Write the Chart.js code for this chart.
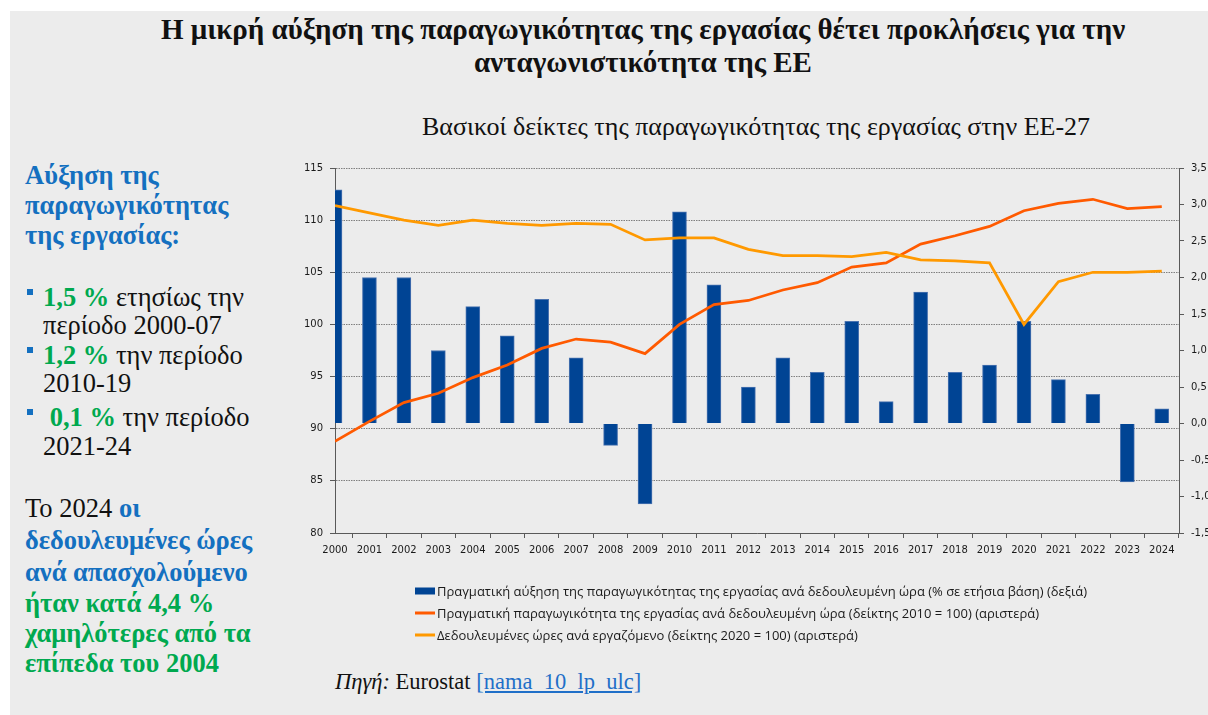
<!DOCTYPE html>
<html lang="el">
<head>
<meta charset="utf-8">
<title>Παραγωγικότητα της εργασίας στην ΕΕ-27</title>
<script src="https://cdn.jsdelivr.net/npm/chart.js@4.4.1/dist/chart.umd.min.js"></script>
<style>
  html, body { margin: 0; padding: 0; width: 1208px; height: 715px; overflow: hidden; background: #fff; }
  #panel { position: absolute; left: 10px; top: 11px; right: 0; bottom: 0; background: #ececec; }
  .serif { font-family: "Liberation Serif", "Times New Roman", serif; color: #111; white-space: nowrap; }
  #title { position: absolute; left: 143px; width: 1000px; top: 13px; text-align: center; font-weight: bold; font-size: 29px; line-height: 33px; }
  #subtitle { position: absolute; left: 406px; width: 700px; top: 113px; text-align: center; font-size: 26px; line-height: 28px; }
  .ln { position: absolute; left: 25px; font-size: 26.5px; line-height: 30px; }
  .b { font-weight: bold; }
  .blue { color: #1470c0; }
  .green { color: #00a94f; }
  .bul { position: absolute; left: 27px; width: 6px; height: 6px; background: #1470c0; }
  #source { position: absolute; left: 335px; top: 669px; font-size: 22.5px; line-height: 26px; }
  #source a { color: #1f6fc8; text-decoration: underline; }
  #chartBox { position: absolute; left: 290px; top: 150px; }
</style>
</head>
<body>
<div id="panel"></div>

<div id="title" class="serif">Η μικρή αύξηση της παραγωγικότητας της εργασίας θέτει προκλήσεις για την<br>ανταγωνιστικότητα της ΕΕ</div>
<div id="subtitle" class="serif">Βασικοί δείκτες της παραγωγικότητας της εργασίας στην ΕΕ-27</div>

<div class="ln serif b blue" style="top:160px">Αύξηση της</div>
<div class="ln serif b blue" style="top:190px">παραγωγικότητας</div>
<div class="ln serif b blue" style="top:220px">της εργασίας:</div>

<div class="bul" style="top:289px"></div>
<div class="ln serif" style="top:282px;left:43px"><span class="b green">1,5 %</span> ετησίως την</div>
<div class="ln serif" style="top:310px;left:43px">περίοδο 2000-07</div>
<div class="bul" style="top:347px"></div>
<div class="ln serif" style="top:340px;left:43px"><span class="b green">1,2 %</span> την περίοδο</div>
<div class="ln serif" style="top:368px;left:43px">2010-19</div>
<div class="bul" style="top:409px"></div>
<div class="ln serif" style="top:402px;left:43px">&nbsp;<span class="b green">0,1 %</span> την περίοδο</div>
<div class="ln serif" style="top:431px;left:43px">2021-24</div>

<div class="ln serif" style="top:493px">Το 2024 <span class="b blue">οι</span></div>
<div class="ln serif b blue" style="top:525px">δεδουλευμένες ώρες</div>
<div class="ln serif b blue" style="top:557px">ανά απασχολούμενο</div>
<div class="ln serif b green" style="top:588px">ήταν κατά 4,4 %</div>
<div class="ln serif b green" style="top:618px">χαμηλότερες από τα</div>
<div class="ln serif b green" style="top:648px">επίπεδα του 2004</div>

<div id="source" class="serif"><i>Πηγή:</i> Eurostat <a href="#">[nama_10_lp_ulc]</a></div>

<div id="chartBox"><canvas id="chart" width="950" height="510"></canvas></div>

<script>
const years = [2000, 2001, 2002, 2003, 2004, 2005, 2006, 2007, 2008, 2009, 2010, 2011, 2012,
  2013, 2014, 2015, 2016, 2017, 2018, 2019, 2020, 2021, 2022, 2023, 2024];

// % y/y, right axis
const productivityGrowth = [3.2, 2.0, 2.0, 1.0, 1.6, 1.2, 1.7, 0.9, -0.3, -1.1, 2.9, 1.9, 0.5,
  0.9, 0.7, 1.4, 0.3, 1.8, 0.7, 0.8, 1.4, 0.6, 0.4, -0.8, 0.2];

// index 2010 = 100, left axis
const productivityIndex = [88.8, 90.7, 92.5, 93.4, 94.9, 96.1, 97.7, 98.6, 98.3, 97.2, 100.0, 101.9, 102.3,
  103.3, 104.0, 105.5, 105.9, 107.7, 108.5, 109.4, 110.9, 111.6, 112.0, 111.1, 111.3];

// index 2020 = 100, left axis
const hoursIndex = [111.4, 110.7, 110.0, 109.5, 110.0, 109.7, 109.5, 109.7, 109.6, 108.1, 108.3, 108.3, 107.2,
  106.6, 106.6, 106.5, 106.9, 106.2, 106.1, 105.9, 100.0, 104.1, 105.0, 105.0, 105.1];

const seriesLabels = [
  'Πραγματική αύξηση της παραγωγικότητας της εργασίας ανά δεδουλευμένη ώρα (% σε ετήσια βάση) (δεξιά)',
  'Πραγματική παραγωγικότητα της εργασίας ανά δεδουλευμένη ώρα (δείκτης 2010 = 100) (αριστερά)',
  'Δεδουλευμένες ώρες ανά εργαζόμενο (δείκτης 2020 = 100) (αριστερά)',
];

const leftTicks = { min: 80, max: 115, step: 5 };
const rightTicks = { min: -1.5, max: 3.5, step: 0.5 };

const toPoints = (values) => years.map((yr, i) => ({ x: yr, y: values[i] }));
const commaDecimal = (v) => Number(v).toFixed(1).replace('.', ',');

const tickFont = { family: 'DejaVu Sans', size: 10 };
const axisColor = '#595959';

// legend drawn as three stacked rows under the plot
const legendRows = {
  id: 'legendRows',
  afterDraw(chart, args, opts) {
    const { ctx, chartArea } = chart;
    ctx.save();
    ctx.font = opts.font;
    ctx.textBaseline = 'middle';
    chart.data.datasets.forEach((ds, i) => {
      const x = chartArea.left + opts.left;
      const y = chartArea.bottom + opts.top + i * opts.rowHeight;
      if (ds.type === 'line') {
        ctx.strokeStyle = ds.borderColor;
        ctx.lineWidth = 3;
        ctx.beginPath();
        ctx.moveTo(x, y);
        ctx.lineTo(x + 20, y);
        ctx.stroke();
      } else {
        ctx.fillStyle = ds.backgroundColor;
        ctx.fillRect(x, y - 3.5, 20, 7);
      }
      ctx.fillStyle = '#1a1a1a';
      ctx.fillText(ds.label, x + 22, y + 1);
    });
    ctx.restore();
  }
};

new Chart(document.getElementById('chart'), {
  type: 'bar',
  data: {
    datasets: [
      {
        type: 'bar',
        label: seriesLabels[0],
        data: toPoints(productivityGrowth),
        yAxisID: 'y1',
        backgroundColor: '#004494',
        borderColor: '#4a73b0',
        borderWidth: 1,
        barThickness: 14,
        clip: 0,
        order: 3,
      },
      {
        type: 'line',
        label: seriesLabels[1],
        data: toPoints(productivityIndex),
        yAxisID: 'y',
        borderColor: '#ff5a00',
        borderWidth: 2.75,
        pointRadius: 0,
        tension: 0,
        order: 2,
      },
      {
        type: 'line',
        label: seriesLabels[2],
        data: toPoints(hoursIndex),
        yAxisID: 'y',
        borderColor: '#ff9900',
        borderWidth: 2.75,
        pointRadius: 0,
        tension: 0,
        order: 1,
      },
    ]
  },
  options: {
    responsive: false,
    animation: false,
    devicePixelRatio: 1,
    layout: { padding: { top: 18, left: 0, right: 0, bottom: 105 } },
    scales: {
      x: {
        type: 'linear',
        position: 'bottom',
        min: 2000,
        max: 2024.5,
        offset: false,
        grid: { drawOnChartArea: false, drawTicks: true, tickLength: 5, tickColor: axisColor },
        border: { display: true, color: axisColor, width: 1 },
        ticks: {
          stepSize: 1,
          includeBounds: false,
          autoSkip: false,
          maxRotation: 0,
          padding: 6,
          color: '#1a1a1a',
          font: tickFont,
          callback: (v) => String(v),
        },
        afterFit: (scale) => { scale.height = 22; },
      },
      y: {
        type: 'linear',
        position: 'left',
        min: leftTicks.min,
        max: leftTicks.max,
        grid: { color: '#7f7f7f', lineWidth: 1, drawTicks: true, tickLength: 5, tickColor: axisColor, tickBorderDash: [] },
        border: { display: true, color: axisColor, width: 1, dash: [1.5, 1] },
        ticks: { stepSize: leftTicks.step, padding: 7, color: '#1a1a1a', font: tickFont },
        afterFit: (scale) => { scale.width = 45; },
      },
      y1: {
        type: 'linear',
        position: 'right',
        min: rightTicks.min,
        max: rightTicks.max,
        grid: { drawOnChartArea: false, drawTicks: true, tickLength: 5, tickColor: axisColor },
        border: { display: true, color: axisColor, width: 1 },
        ticks: { stepSize: rightTicks.step, padding: 7, color: '#1a1a1a', font: tickFont, callback: commaDecimal },
        afterFit: (scale) => { scale.width = 61; },
      },
    },
    plugins: {
      legend: { display: false },
      tooltip: { enabled: false },
      legendRows: { font: '13px "Open Sans", "Liberation Sans", sans-serif', left: 80, top: 58, rowHeight: 22 },
    },
  },
  plugins: [legendRows],
});
</script>
</body>
</html>
